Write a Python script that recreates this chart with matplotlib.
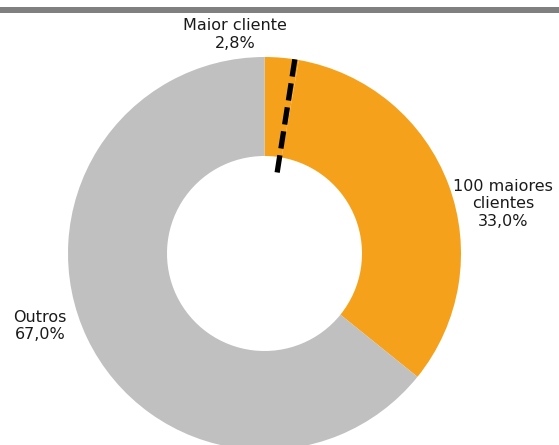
import numpy as np
import matplotlib
matplotlib.use("Agg")
import matplotlib.pyplot as plt

# Data
labels = ["100 maiores\nclientes\n33,0%", "Outros\n67,0%"]
top_label = "Maior cliente\n2,8%"
top_client = 2.8
# drawn slices: largest client, rest of the top 100, others
wedge_values = [2.8, 33.0, 64.2]
wedge_colors = ["#F5A11C", "#F5A11C", "#C0C0C0"]

W, H = 559, 445
fig = plt.figure(figsize=(W / 100, H / 100), dpi=100)
ax = fig.add_axes([0, 0, 1, 1])

# grey band at top
ax.axhspan(H - 13, H - 7, color="#808080", lw=0)

cx, cy = 264.5, H - 253.5
r_out, r_in = 196.5, 97.5

ax.pie(wedge_values, colors=wedge_colors, startangle=90, counterclock=False,
       center=(cx, cy), radius=r_out,
       wedgeprops=dict(width=r_out - r_in, linewidth=0))
ax.set_xlim(0, W)
ax.set_ylim(0, H)
ax.set_aspect("equal")
ax.axis("off")

# dashed line marking the largest client
theta = np.deg2rad(90 - 360 * top_client / 100 + 1.2)
r0, r1 = 82, 201
ax.plot([cx + r0 * np.cos(theta), cx + r1 * np.cos(theta)],
        [cy + r0 * np.sin(theta), cy + r1 * np.sin(theta)],
        color="black", lw=3.8, linestyle=(0, (3.3, 1.3)), solid_capstyle="butt")

kw = dict(ha="center", va="center", fontsize=11.5, color="#1a1a1a", linespacing=1.2)
ax.text(235, H - 34.5, top_label, **kw)
ax.text(503, H - 204, labels[0], **kw)
ax.text(40, H - 326, labels[1], **kw)

fig.savefig("out.png", dpi=100, facecolor="white")
